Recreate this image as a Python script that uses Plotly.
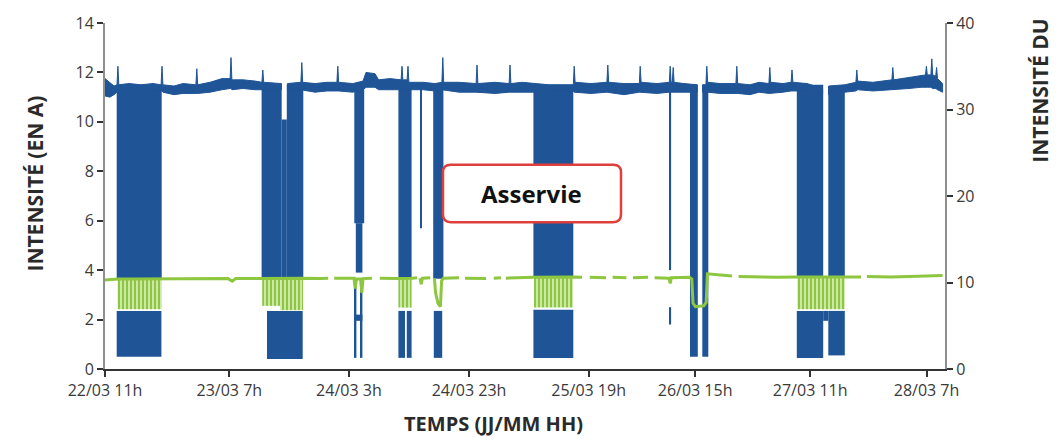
import plotly.graph_objects as go

# ---------------- data ----------------
# x unit: hours of chart position since 22/03 11h
TICK_POS = [0, 20.72, 40.65, 60.67, 80.6, 98.35, 117.53, 136.92]
TICK_TEXT = ["22/03 11h", "23/03 7h", "24/03 3h", "24/03 23h",
             "25/03 19h", "26/03 15h", "27/03 11h", "28/03 7h"]

# Blue (left axis, A): steady-state current band (max / min); None = gap
BASE_T = [0.0, 0.8, 1.5, 2.0, 2.15, 2.3, 4.0, 6.0,
          8.0, 9.35, 9.5, 9.65, 11.5, 13.0, 15.15, 15.3,
          15.45, 17.5, 19.5, 20.85, 21.0, 21.15, 23.0, 25.0,
          26.15, 26.3, 26.45, 29.4, 29.9, 30.4, 32.65, 32.8,
          32.95, 35.0, 37.0, 38.65, 38.8, 38.95, 41.3, 43.0,
          43.5, 45.0, 45.6, 47.5, 49.35, 49.5, 49.65, 50.35,
          50.5, 50.65, 53.0, 55.0, 56.15, 56.3, 56.45, 59.0,
          61.85, 62.0, 62.15, 65.0, 67.35, 67.5, 67.65, 69.5,
          71.3, 74.0, 78.05, 78.2, 78.35, 81.0, 83.65, 83.8,
          83.95, 86.5, 89.05, 89.2, 89.35, 92.0, 94.05, 94.2,
          94.35, 94.55, 94.7, 94.85, 96.5, 98.7, 99.1, 99.6,
          100.15, 100.3, 100.45, 102.5, 105.15, 105.3, 105.45, 107.5,
          109.0, 110.65, 110.8, 110.95, 113.0, 114.35, 114.5, 114.65,
          117.0, 119.6, 120.1, 120.6, 123.3, 125.15, 125.3, 125.45,
          128.0, 131.15, 131.3, 131.45, 134.0, 136.0, 136.75, 136.9,
          137.05, 137.65, 137.8, 137.95, 138.45, 138.6, 138.75, 139.6]
BASE_HI = [11.75, 11.6, 11.45, 11.5, 12.25, 11.5, 11.55, 11.5,
           11.55, 11.5, 12.25, 11.5, 11.45, 11.55, 11.5, 12.15,
           11.5, 11.6, 11.75, 11.75, 12.6, 11.7, 11.7, 11.65,
           11.6, 12.1, 11.6, 11.55, None, 11.55, 11.6, 12.4,
           11.6, 11.55, 11.6, 11.6, 12.25, 11.6, 11.55, 11.65,
           12.0, 11.95, 11.7, 11.75, 11.7, 12.25, 11.7, 11.7,
           12.25, 11.6, 11.6, 11.55, 11.6, 12.6, 11.6, 11.6,
           11.55, 12.3, 11.55, 11.6, 11.55, 12.3, 11.55, 11.6,
           11.55, 11.5, 11.5, 12.25, 11.6, 11.55, 11.6, 12.3,
           11.6, 11.55, 11.55, 12.25, 11.6, 11.55, 11.6, 12.25,
           11.6, 11.6, 12.2, 11.6, 11.55, 11.5, None, 11.5,
           11.5, 12.25, 11.6, 11.55, 11.55, 12.25, 11.55, 11.5,
           11.6, 11.55, 12.2, 11.6, 11.55, 11.6, 12.1, 11.6,
           11.55, 11.35, None, 11.45, 11.5, 11.6, 12.1, 11.65,
           11.6, 11.7, 12.2, 11.7, 11.8, 11.9, 11.9, 12.25,
           11.9, 11.9, 12.55, 11.9, 11.85, 12.2, 11.75, 11.55]
BASE_LO = [11.05, 11.0, 11.1, 11.2, 11.2, 11.2, 11.25, 11.3,
           11.25, 11.25, 11.25, 11.2, 11.1, 11.15, 11.15, 11.15,
           11.15, 11.2, 11.3, 11.35, 11.35, 11.3, 11.35, 11.3,
           11.3, 11.3, 11.3, 11.3, None, 11.3, 11.3, 11.3,
           11.3, 11.2, 11.25, 11.25, 11.25, 11.25, 11.2, 11.3,
           11.4, 11.4, 11.3, 11.3, 11.3, 11.3, 11.3, 11.3,
           11.3, 11.3, 11.3, 11.25, 11.3, 11.3, 11.3, 11.2,
           11.2, 11.2, 11.2, 11.15, 11.2, 11.2, 11.2, 11.2,
           11.2, 11.25, 11.25, 11.2, 11.2, 11.15, 11.2, 11.2,
           11.2, 11.1, 11.2, 11.2, 11.2, 11.15, 11.2, 11.2,
           11.2, 11.2, 11.2, 11.2, 11.2, 11.2, None, 11.2,
           11.2, 11.2, 11.2, 11.15, 11.15, 11.15, 11.15, 11.1,
           11.2, 11.15, 11.15, 11.15, 11.2, 11.25, 11.25, 11.25,
           11.25, 11.1, None, 11.1, 11.2, 11.25, 11.25, 11.3,
           11.25, 11.3, 11.3, 11.3, 11.35, 11.4, 11.4, 11.4,
           11.4, 11.4, 11.4, 11.35, 11.35, 11.35, 11.3, 11.2]

# Blue: on/off cycling bursts, drawn as min/max envelopes (start, end, low, high)
BURST_T0 = [1.95, 26.1, 29.45, 30.3, 41.55, 41.8, 48.9, 52.55, 54.7, 71.4, 94.05,
            97.5, 99.55, 115.3, 120.55,
            1.95, 27.0, 41.6, 42.6, 41.6, 48.9, 50.3, 54.8, 71.4, 94.05, 115.3,
            119.7, 120.55]
BURST_T1 = [9.45, 29.45, 30.3, 33.05, 43.2, 42.9, 51.1, 52.8, 56.4, 78.05, 94.35,
            98.8, 100.55, 119.7, 123.3,
            9.4, 32.95, 41.9, 42.9, 42.9, 50.0, 51.1, 56.2, 78.05, 94.35, 119.7,
            120.55, 123.3]
BURST_LO = [3.65, 3.65, 3.65, 3.65, 5.9, 3.9, 3.65, 5.7, 3.65, 3.7, 4.0, 0.5, 0.5,
            3.7, 3.7,
            0.5, 0.4, 0.45, 0.45, 1.95, 0.45, 0.45, 0.45, 0.45, 1.8, 0.45, 1.95,
            0.55]
BURST_HI = [11.5, 11.5, 10.1, 11.5, 11.4, 5.9, 11.4, 11.4, 11.4, 11.5, 11.5, 11.5,
            11.5, 11.5, 11.45,
            2.35, 2.35, 3.5, 3.5, 2.2, 2.35, 2.35, 2.35, 2.4, 2.5, 2.35, 2.35,
            2.35]

# Green (right axis): steady line, None = gap
GREEN_T = [0.0, 1.0, 2.2, 5.0, 9.5, 12.0, 16.0, 20.5, 21.2, 21.8,
           26.1, 29.0, 33.0, 36.0, 37.2, 37.6, 38.2, 41.5, 41.7, 41.9,
           42.6, 42.8, 43.0, 44.5, 45.0, 45.8, 48.8, 51.2, 52.0, 52.3,
           52.5, 52.7, 52.9, 54.2, 54.5, 54.9, 55.1, 55.5, 55.9, 56.1,
           56.4, 59.0, 59.4, 60.0, 63.5, 64.0, 64.8, 66.0, 66.4, 66.8,
           71.4, 78.0, 79.5, 80.1, 80.8, 83.5, 84.0, 84.6, 86.9, 87.3,
           88.0, 90.5, 91.0, 91.6, 94.0, 94.2, 94.4, 97.4, 97.8, 98.0,
           98.4, 99.8, 100.2, 100.4, 102.0, 104.5, 105.0, 105.6, 109.0, 112.0,
           115.3, 123.3, 126.0, 126.5, 127.0, 131.0, 134.0, 137.0, 139.6]
GREEN_V = [10.3, 10.35, 10.4, 10.4, 10.4, 10.45, 10.4, 10.45, 10.15, 10.45,
           10.45, 10.5, 10.5, 10.45, 10.5, None, 10.5, 10.5, 9.3, 10.4,
           10.4, 8.8, 10.45, 10.5, None, 10.5, 10.45, 10.5, 10.55, None,
           10.5, 9.8, 10.5, 10.55, None, 10.5, 8.8, 7.6, 7.2, 10.2,
           10.5, 10.55, None, 10.5, 10.45, None, 10.5, 10.55, None, 10.5,
           10.6, 10.65, 10.6, None, 10.6, 10.55, None, 10.6, 10.55, None,
           10.55, 10.6, None, 10.55, 10.5, 9.9, 10.55, 10.6, 10.4, 7.6,
           7.2, 7.3, 7.7, 11.0, 10.9, 10.75, None, 10.7, 10.65, 10.6,
           10.65, 10.7, 10.65, None, 10.7, 10.65, 10.7, 10.75, 10.8]

# Green: cycling bursts (start, end, low, high)
GBURST_T0 = [2.1, 26.2, 29.2, 48.9, 71.5, 115.4]
GBURST_T1 = [9.45, 29.2, 33.0, 51.1, 78.0, 123.3]
GBURST_LO = [6.9, 7.3, 6.8, 7.1, 7.1, 6.9]
GBURST_HI = [10.4, 10.4, 10.4, 10.4, 10.6, 10.65]

BLUE = "#1F5597"
GREEN = "#8DC63F"
FONT = "Open Sans, Lato, DejaVu Sans, sans-serif"
TXT = "#3a3a3a"

# ---------------- build ----------------
def envelope_polys(t, hi, lo):
    segs, cur = [], []
    for a, b, c in zip(t, hi, lo):
        if b is None or c is None:
            if cur:
                segs.append(cur)
            cur = []
        else:
            cur.append((a, b, c))
    if cur:
        segs.append(cur)
    xs, ys = [], []
    for s in segs:
        xs += [p[0] for p in s] + [p[0] for p in reversed(s)] + [s[0][0], None]
        ys += [p[1] for p in s] + [p[2] for p in reversed(s)] + [s[0][1], None]
    return xs, ys


def bars(t0, t1, lo, hi, color, yaxis="y", pattern=None):
    marker = dict(color=color, line=dict(width=0))
    if pattern:
        marker["pattern"] = pattern
    return go.Bar(
        x=[(a + b) / 2 for a, b in zip(t0, t1)],
        width=[b - a for a, b in zip(t0, t1)],
        base=lo,
        y=[h - l for l, h in zip(lo, hi)],
        marker=marker,
        yaxis=yaxis, hoverinfo="skip", showlegend=False,
    )


fig = go.Figure()
fig.add_trace(bars(BURST_T0, BURST_T1, BURST_LO, BURST_HI, BLUE))
ex, ey = envelope_polys(BASE_T, BASE_HI, BASE_LO)
fig.add_trace(go.Scatter(x=ex, y=ey, mode="lines", fill="toself", fillcolor=BLUE,
                         line=dict(color=BLUE, width=1.0), hoverinfo="skip",
                         showlegend=False))
fig.add_trace(bars(GBURST_T0, GBURST_T1, GBURST_LO, GBURST_HI, GREEN, "y2",
                   pattern=dict(shape="|", fillmode="replace", bgcolor="#d4ebb4",
                                fgcolor=GREEN, size=4, solidity=0.55)))
fig.add_trace(go.Scatter(x=GREEN_T, y=GREEN_V, yaxis="y2", mode="lines",
                         line=dict(color=GREEN, width=3), connectgaps=False,
                         hoverinfo="skip", showlegend=False))

# "Asservie" label box (rounded rectangle)
bx0, bx1, by0, by1 = 56.33, 86.0, 5.94, 8.26
rx, ry = 1.3, 0.31
path = (f"M {bx0+rx},{by1} L {bx1-rx},{by1} Q {bx1},{by1} {bx1},{by1-ry} "
        f"L {bx1},{by0+ry} Q {bx1},{by0} {bx1-rx},{by0} L {bx0+rx},{by0} "
        f"Q {bx0},{by0} {bx0},{by0+ry} L {bx0},{by1-ry} Q {bx0},{by1} {bx0+rx},{by1} Z")
fig.add_shape(type="path", path=path, xref="x", yref="y", fillcolor="white",
              line=dict(color="#E0403C", width=2.5), layer="above")
fig.add_annotation(x=(bx0 + bx1) / 2, y=(by0 + by1) / 2, xref="x", yref="y",
                   text="<b>Asservie</b>", showarrow=False,
                   font=dict(family=FONT, size=24, color="#111111"))

# axis titles
fig.add_annotation(x=-0.0833, y=0.536, xref="paper", yref="paper",
                   text="<b>INTENSITÉ (EN A)</b>", textangle=-90, showarrow=False,
                   xanchor="center", yanchor="middle",
                   font=dict(family=FONT, size=21, color="#2a2a2a"))
fig.add_annotation(x=1.113, y=0.59, xref="paper", yref="paper",
                   text="<b>INTENSITÉ DU</b>", textangle=-90, showarrow=False,
                   xanchor="center", yanchor="bottom",
                   font=dict(family=FONT, size=21, color="#2a2a2a"))
fig.add_annotation(x=0.462, y=-0.157, xref="paper", yref="paper",
                   text="<b>TEMPS (JJ/MM HH)</b>", showarrow=False,
                   xanchor="center", yanchor="middle",
                   font=dict(family=FONT, size=20, color="#2a2a2a"))

fig.update_layout(
    width=1064, height=438,
    margin=dict(l=105, r=119, t=20, b=69),
    paper_bgcolor="white", plot_bgcolor="white",
    barmode="overlay", showlegend=False,
    font=dict(family=FONT, size=16, color=TXT),
    xaxis=dict(range=[0, 140], tickmode="array", tickvals=TICK_POS,
               ticktext=TICK_TEXT, showline=True, linecolor="#333333",
               linewidth=1.5, ticks="outside", ticklen=6, tickwidth=1.5,
               tickcolor="#333333", showgrid=False, zeroline=False,
               tickfont=dict(family=FONT, size=16, color=TXT)),
    yaxis=dict(range=[0, 14], dtick=2, showline=True, linecolor="#8f8f8f",
               linewidth=2, ticks="outside", ticklen=6, tickwidth=1.5,
               tickcolor="#333333", showgrid=False, zeroline=False,
               tickfont=dict(family=FONT, size=16, color=TXT)),
    yaxis2=dict(range=[0, 40], dtick=10, overlaying="y", side="right",
                showline=True, linecolor="#8f8f8f", linewidth=2,
                ticks="outside", ticklen=6, tickwidth=1.5, tickcolor="#333333",
                showgrid=False, zeroline=False,
                tickfont=dict(family=FONT, size=16, color=TXT)),
)

fig.write_html("out.html", config={"displayModeBar": False},
               post_script="document.body.style.margin='0';"
                           "document.body.style.overflow='hidden';")
